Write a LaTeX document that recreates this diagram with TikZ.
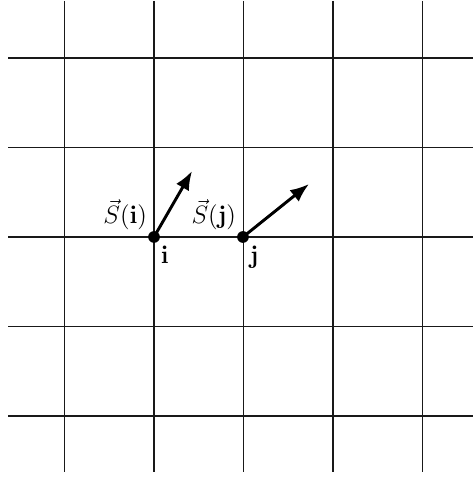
\documentclass[tikz,border=0pt]{standalone}
\usetikzlibrary{positioning,arrows.meta}
\tikzset{>={Latex[length=9pt,width=7pt]}}
\tikzset{gridline/.style={line width=.75pt,black!90}}
\tikzset{site/.style={circle,fill=black,inner sep=0pt,minimum size=5.6pt}}
\tikzset{spin/.style={->,line width=1.4pt}}
\tikzset{spinlabel/.style={font=\large,inner sep=1pt}}
\begin{document}
\begin{tikzpicture}[x=1.5cm,y=1.5cm]
    \useasboundingbox (-1.721,-2.682) rectangle (3.564,2.648);
    % lattice
    \foreach \x in {-1,...,3}
        \draw[gridline] (\x,2.637) -- (\x,-2.622);
    \foreach \y in {-2,...,2}
        \draw[gridline] (-1.631,\y) -- (3.564,\y);
    % sites
    \node[site] (i) at (0,0) {};
    \node[site] (j) at (0.994,0) {};
    \coordinate (si) at (0.425,0.737);
    \coordinate (sj) at (1.732,0.592);
    \draw[spin] (i.center) -- (si);
    \draw[spin] (j.center) -- (sj);
    \node[spinlabel, above left=0pt and 0pt of i] {$\vec{S}(\mathbf{i})$};
    \node[spinlabel, above left=0pt and 0pt of j] {$\vec{S}(\mathbf{j})$};
    \node[spinlabel, below right=1pt and 0pt of i] {$\mathbf{i}$};
    \node[spinlabel, below right=1pt and 0pt of j] {$\mathbf{j}$};
\end{tikzpicture}
\end{document}
